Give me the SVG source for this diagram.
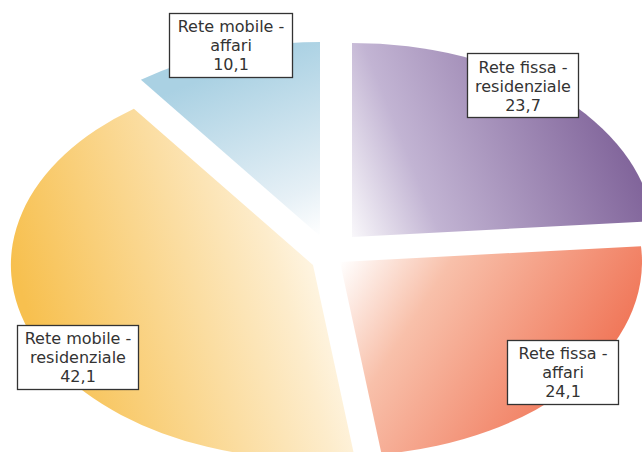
<svg xmlns="http://www.w3.org/2000/svg" width="642" height="452" viewBox="0 0 642 452">
<style>
.box{fill:#ffffff;stroke:#333333;stroke-width:1.3}
.lbl{font-family:"DejaVu Sans",Verdana,sans-serif;font-size:16px;fill:#333333;text-anchor:middle}
</style>
<defs>
<linearGradient id="gBlue" gradientUnits="userSpaceOnUse" x1="320" y1="236" x2="250" y2="60">
<stop offset="0" stop-color="#ffffff"/>
<stop offset="0.25" stop-color="#e6f0f6"/>
<stop offset="1" stop-color="#aad1e3"/>
</linearGradient>
<linearGradient id="gPurple" gradientUnits="userSpaceOnUse" x1="345" y1="245" x2="630" y2="130">
<stop offset="0" stop-color="#ffffff"/>
<stop offset="0.3" stop-color="#c2b4d3"/>
<stop offset="1" stop-color="#7e6198"/>
</linearGradient>
<linearGradient id="gRed" gradientUnits="userSpaceOnUse" x1="340" y1="262" x2="600" y2="430">
<stop offset="0" stop-color="#ffffff"/>
<stop offset="0.3" stop-color="#f8c0aa"/>
<stop offset="1" stop-color="#ef6a4b"/>
</linearGradient>
<linearGradient id="gOrange" gradientUnits="userSpaceOnUse" x1="330" y1="230" x2="30" y2="320">
<stop offset="0" stop-color="#fffaf0"/>
<stop offset="0.2" stop-color="#fdeccb"/>
<stop offset="1" stop-color="#f7c04f"/>
</linearGradient>
</defs>
<g id="slices">
<g id="slice-fissa-residenziale"><path d="M352,237 L352,43 A302,194 0 0,1 653,221.2 Z" fill="url(#gPurple)"/></g>
<g id="slice-fissa-affari"><path d="M340,262 L641,246.2 A302,194 0 0,1 381.6,454.2 Z" fill="url(#gRed)"/></g>
<g id="slice-mobile-residenziale"><path d="M313,265 L354.6,457.2 A302,194 0 0,1 133.9,108.8 Z" fill="url(#gOrange)"/></g>
<g id="slice-mobile-affari"><path d="M320,236 L140.9,79.8 A302,194 0 0,1 320,42 Z" fill="url(#gBlue)"/></g>
</g>
<g id="label-mobile-affari">
<rect class="box" x="169.5" y="13.5" width="123" height="64"/>
<text class="lbl" x="231" y="32">Rete mobile -</text>
<text class="lbl" x="231" y="51">affari</text>
<text class="lbl" x="231" y="70">10,1</text>
</g>
<g id="label-fissa-residenziale">
<rect class="box" x="467.5" y="53.5" width="111" height="64"/>
<text class="lbl" x="523" y="73">Rete fissa -</text>
<text class="lbl" x="523" y="92">residenziale</text>
<text class="lbl" x="523" y="111">23,7</text>
</g>
<g id="label-fissa-affari">
<rect class="box" x="507.5" y="340.5" width="111" height="64"/>
<text class="lbl" x="563" y="359">Rete fissa -</text>
<text class="lbl" x="563" y="378">affari</text>
<text class="lbl" x="563" y="397">24,1</text>
</g>
<g id="label-mobile-residenziale">
<rect class="box" x="17.5" y="325.5" width="121" height="64"/>
<text class="lbl" x="78" y="344">Rete mobile -</text>
<text class="lbl" x="78" y="363">residenziale</text>
<text class="lbl" x="78" y="382">42,1</text>
</g>
</svg>
